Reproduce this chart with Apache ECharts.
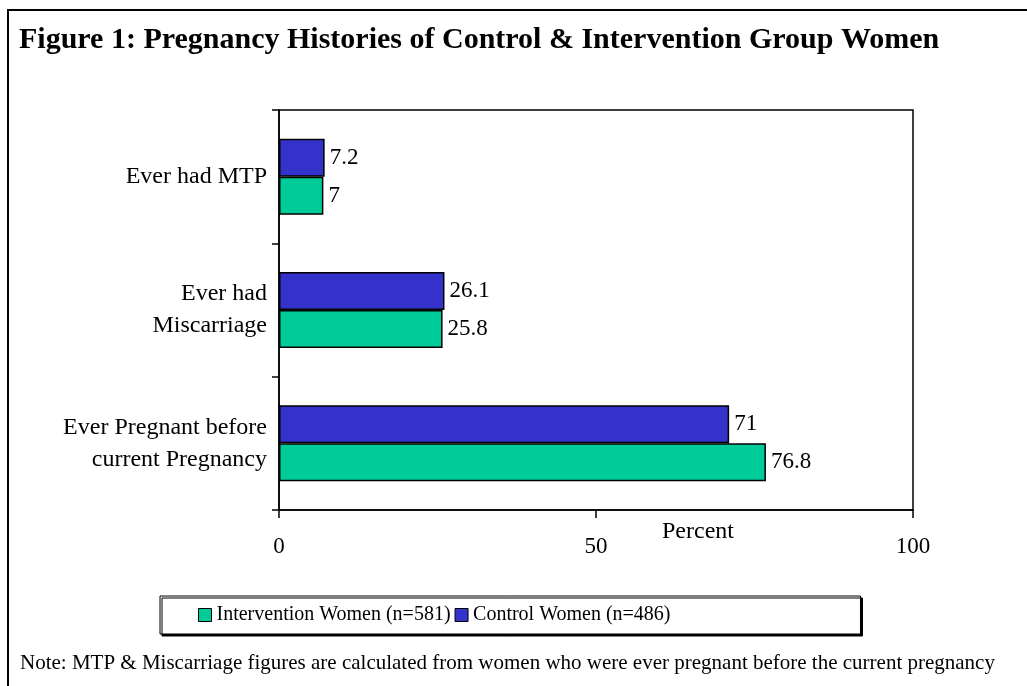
<!DOCTYPE html>
<html>
<head>
<meta charset="utf-8">
<script src="https://cdn.jsdelivr.net/npm/echarts@6/dist/echarts.min.js"></script>
<style>
  html, body { margin: 0; padding: 0; background: #fff; }
  #chart { width: 1027px; height: 686px; }
</style>
</head>
<body>
<div id="chart"></div>
<script>
// categories, bottom to top
var categories = ['Ever Pregnant before\ncurrent Pregnancy', 'Ever had\nMiscarriage', 'Ever had MTP']
var interventionValues = [76.8, 25.8, 7]
var controlValues = [71, 26.1, 7.2]
var seriesNames = ['Intervention Women (n=581)', 'Control Women (n=486)']
var xTicks = { min: 0, max: 100, interval: 50 }

var serif = 'Liberation Serif, Times New Roman, serif'

var chart = echarts.init(document.getElementById('chart'))

var barLabel = {
  show: true,
  position: 'right',
  distance: 5,
  color: '#000',
  fontFamily: serif,
  fontSize: 23
}

var option = {
  backgroundColor: '#fff',
  animation: false,
  title: {
    text: 'Figure 1: Pregnancy Histories of Control & Intervention Group Women',
    left: 14,
    top: 20,
    textStyle: { fontFamily: serif, fontSize: 30, fontWeight: 'bold', color: '#000' }
  },
  grid: {
    left: 279,
    top: 110,
    right: 114,
    bottom: 176,
    show: true,
    borderColor: '#000',
    borderWidth: 1.5,
    backgroundColor: '#fff'
  },
  legend: {
    data: seriesNames,
    left: 160,
    top: 596,
    padding: [9, 190, 9, 38],
    itemGap: 4,
    itemWidth: 13,
    itemHeight: 13,
    icon: 'rect',
    backgroundColor: '#fff',
    borderColor: '#000',
    borderWidth: 1,
    shadowColor: '#000',
    shadowOffsetX: 2,
    shadowOffsetY: 2,
    shadowBlur: 0,
    itemStyle: { borderColor: '#000', borderWidth: 1 },
    textStyle: { fontFamily: serif, fontSize: 20, color: '#000' }
  },
  xAxis: {
    type: 'value',
    min: xTicks.min,
    max: xTicks.max,
    interval: xTicks.interval,
    axisLine: { show: true, lineStyle: { color: '#000', width: 1.5 } },
    axisTick: { show: true, inside: false, length: 8, lineStyle: { color: '#000', width: 1.5 } },
    axisLabel: { color: '#000', fontFamily: serif, fontSize: 23, margin: 25 },
    splitLine: { show: false }
  },
  yAxis: {
    type: 'category',
    data: categories,
    axisLine: { show: true, lineStyle: { color: '#000', width: 1.5 } },
    axisTick: { show: true, inside: false, length: 7, lineStyle: { color: '#000', width: 1.5 } },
    axisLabel: { color: '#000', fontFamily: serif, fontSize: 24, lineHeight: 32, margin: 12, align: 'right' }
  },
  series: [
    {
      name: seriesNames[1],
      type: 'bar',
      data: controlValues,
      barWidth: 38,
      barGap: '0%',
      itemStyle: { color: '#3333CC', borderColor: '#000', borderWidth: 1.5 },
      label: barLabel
    },
    {
      name: seriesNames[0],
      type: 'bar',
      data: interventionValues,
      barWidth: 38,
      barGap: '0%',
      itemStyle: { color: '#00CC99', borderColor: '#000', borderWidth: 1.5 },
      label: barLabel
    }
  ],
  graphic: [
    {
      type: 'rect',
      shape: { x: 8, y: 10, width: 1030, height: 700 },
      style: { fill: null, stroke: '#000', lineWidth: 2 },
      silent: true
    },
    {
      type: 'text',
      left: 662,
      top: 520,
      style: { text: 'Percent', font: '24px ' + serif, fill: '#000' }
    },
    {
      type: 'text',
      left: 20,
      top: 653,
      style: {
        text: 'Note: MTP & Miscarriage figures are calculated from women who were ever pregnant before the current pregnancy',
        font: '21px ' + serif,
        fill: '#000'
      }
    }
  ]
}

chart.setOption(option)
</script>
</body>
</html>
